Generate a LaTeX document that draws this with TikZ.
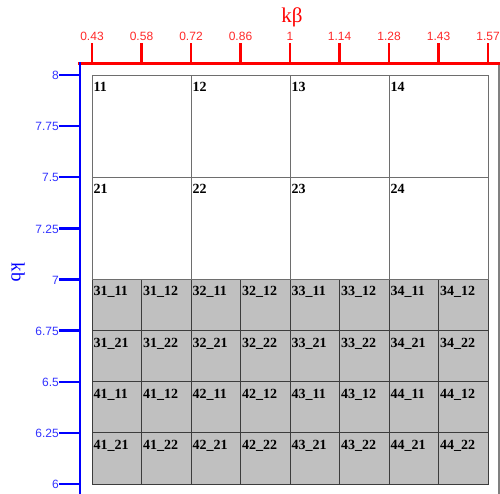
\documentclass[tikz,border=0pt]{standalone}
\usepackage{fontspec}
\setmainfont{Liberation Serif}
\newfontfamily\tickfont{Liberation Sans}
\usetikzlibrary{calc}

\definecolor{cellgray}{RGB}{192,192,192}
\definecolor{gridline}{RGB}{110,110,110}
\definecolor{subline}{RGB}{60,60,60}
\definecolor{ticklbl}{RGB}{255,40,40}
\definecolor{ticklblb}{RGB}{50,50,255}

\tikzset{
  celltext/.style={anchor=north west,inner sep=0pt,font=\fontsize{14}{14}\selectfont\bfseries},
  xtick/.style={anchor=base,inner sep=0pt,text=ticklbl,font=\tickfont\fontsize{12}{12}\selectfont},
  ytick/.style={anchor=east,inner sep=0pt,text=ticklblb,font=\tickfont\fontsize{12}{12}\selectfont},
}

\begin{document}
\begin{tikzpicture}[x=1pt,y=-1pt,line cap=rect]
  % grid: x 92..488, y 75..484
  \def\xl{92}
  \def\xr{488}
  \def\yt{75}
  \def\yb{484}
  \def\cw{49.5}
  \def\rh{51.125}
  \useasboundingbox (0,0) rectangle (500,493);

  % outer frame
  \draw[gray,line width=1.2pt] (80,63.5) rectangle (499,500);

  % lower half, split cells
  \fill[cellgray] (\xl,{\yt+4*\rh}) rectangle (\xr,\yb);
  \foreach \i in {1,...,7}
    \draw[subline,line width=0.9pt] ({\xl+\i*\cw},{\yt+4*\rh}) -- ({\xl+\i*\cw},\yb);
  \foreach \j in {5,6,7}
    \draw[subline,line width=0.9pt] (\xl,{\yt+\j*\rh}) -- (\xr,{\yt+\j*\rh});
  \draw[subline,line width=0.9pt] (\xl,{\yt+4*\rh}) rectangle (\xr,\yb);

  % upper half, big cells
  \foreach \i in {0,2,4,6,8}
    \draw[gridline,line width=0.9pt] ({\xl+\i*\cw},\yt) -- ({\xl+\i*\cw},{\yt+4*\rh});
  \foreach \j in {0,2,4}
    \draw[gridline,line width=0.9pt] (\xl,{\yt+\j*\rh}) -- (\xr,{\yt+\j*\rh});

  % cell labels
  \foreach \r in {1,2}
    \foreach \c in {1,...,4}
      \node[celltext] (c\r\c) at ({\xl+(\c-1)*2*\cw+1.5},{\yt+(\r-1)*2*\rh+7}) {\r\c};
  \foreach \R in {3,4}
    \foreach \C in {1,...,4}
      \foreach \a in {1,2}
        \foreach \b in {1,2}
          \node[celltext] (c\R\C\a\b) at ({\xl+(\C-1)*2*\cw+(\b-1)*\cw+1.5},{\yt+(\R-1)*2*\rh+(\a-1)*\rh+7})
            {\R\C\_\a\b};

  % top axis (red)
  \draw[red,line width=2.4pt] (79,63.5) -- (500,63.5);
  \foreach \v [count=\i from 0] in {0.43,0.58,0.72,0.86,1,1.14,1.28,1.43,1.57}{
    \draw[red,line width=2.4pt] ({\xl+\i*\cw},63.5) -- ({\xl+\i*\cw},44);
    \node[xtick] (xt\i) at ({\xl+\i*\cw},40) {\v};
  }
  \node[red,inner sep=0pt,font=\fontsize{21}{21}\selectfont] (xname) at (292,17) {kβ};

  % left axis (blue)
  \draw[blue,line width=2.4pt] (80,63.5) -- (80,493);
  \foreach \v [count=\j from 0] in {8,7.75,7.5,7.25,7,6.75,6.5,6.25,6}{
    \draw[blue,line width=2.4pt] (80,{\yt+\j*\rh}) -- (60,{\yt+\j*\rh});
    \node[ytick] (yt\j) at (59,{\yt+\j*\rh+0.5}) {\v};
  }
  \node[blue,inner sep=0pt,rotate=-90,font=\fontsize{19}{19}\selectfont] (yname) at (18,272) {kb};
\end{tikzpicture}
\end{document}
